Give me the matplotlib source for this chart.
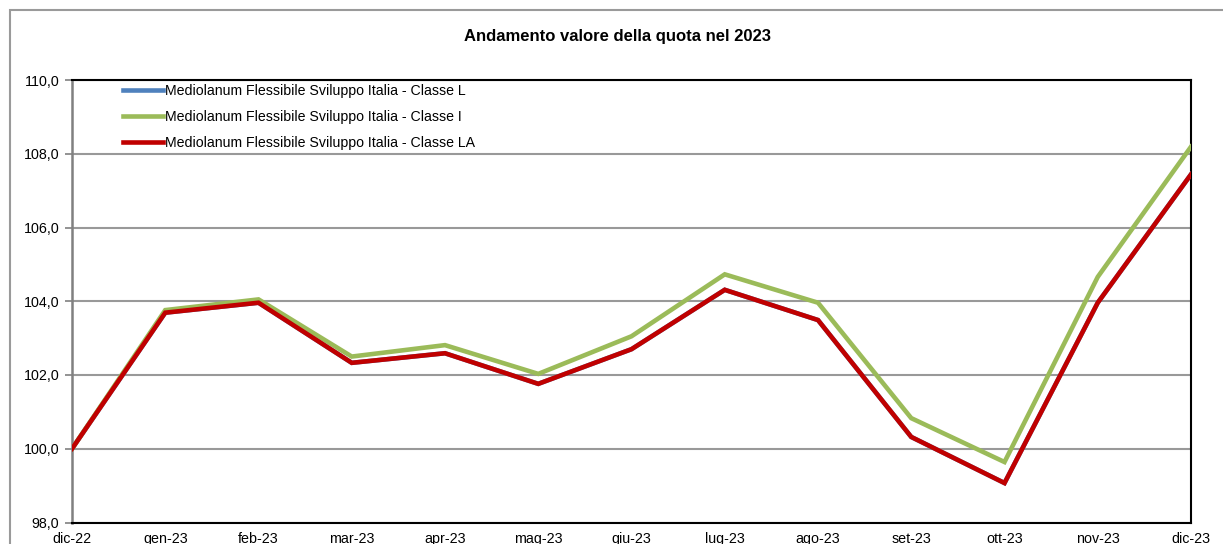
import matplotlib
matplotlib.use("Agg")
import matplotlib.pyplot as plt
from matplotlib.patches import Rectangle

plt.rcParams['font.family'] = ['Liberation Sans', 'DejaVu Sans']

months = ["dic-22", "gen-23", "feb-23", "mar-23", "apr-23", "mag-23", "giu-23",
          "lug-23", "ago-23", "set-23", "ott-23", "nov-23", "dic-23"]

classe_l = [100.0, 103.69, 103.96, 102.33, 102.59, 101.76, 102.70,
            104.31, 103.49, 100.32, 99.07, 103.96, 107.44]
classe_i = [100.0, 103.76, 104.05, 102.50, 102.81, 102.03, 103.05,
            104.73, 103.96, 100.83, 99.64, 104.66, 108.19]
classe_la = [100.0, 103.69, 103.96, 102.33, 102.59, 101.76, 102.70,
             104.31, 103.49, 100.32, 99.07, 103.96, 107.44]

series_names = ["Mediolanum Flessibile Sviluppo Italia - Classe L",
                "Mediolanum Flessibile Sviluppo Italia - Classe I",
                "Mediolanum Flessibile Sviluppo Italia - Classe LA"]
series_colors = ["#4F81BD", "#9BBB59", "#C00000"]

y_ticks = [98.0, 100.0, 102.0, 104.0, 106.0, 108.0, 110.0]

W, H = 1223, 544
fig = plt.figure(figsize=(W / 100, H / 100), dpi=100)

# outer chart-area border
fig.patches.append(Rectangle((10 / W, -0.05), 1.2, 1 - 10 / H + 0.05,
                             transform=fig.transFigure, fill=False,
                             edgecolor="#9a9a9a", linewidth=1.5))

ax = fig.add_axes([72 / W, 1 - 522.5 / H, (1191 - 72) / W, (522.5 - 80) / H])

x = list(range(len(months)))
for vals, name, col, z in zip([classe_l, classe_i, classe_la], series_names,
                              series_colors, [3, 4, 5]):
    ax.plot(x, vals, color=col, linewidth=3.3, label=name, zorder=z,
            solid_joinstyle="miter")

ax.set_xlim(0, len(months) - 1)
ax.set_ylim(98, 110)
ax.set_yticks(y_ticks)
ax.set_yticklabels([f"{v:.1f}".replace(".", ",") for v in y_ticks], fontsize=10.3)
ax.set_xticks(x)
ax.set_xticklabels(months, fontsize=10.3)
ax.tick_params(axis="x", length=0, pad=7)
ax.tick_params(axis="y", length=5, width=1.2, color="#808080", pad=4, direction="out")

ax.yaxis.grid(True, color="#999999", linewidth=1.5)
ax.set_axisbelow(True)

for side in ["top", "right", "bottom"]:
    ax.spines[side].set_color("black")
    ax.spines[side].set_linewidth(1.5)
ax.spines["left"].set_color("#808080")
ax.spines["left"].set_linewidth(1.8)
ax.spines["bottom"].set_zorder(6)

fig.text(618 / W, 1 - 37 / H, "Andamento valore della quota nel 2023",
         ha="center", va="center", fontsize=12, fontweight="bold")

leg = ax.legend(loc="upper left", bbox_to_anchor=(118 / W, 1 - 79 / H),
                bbox_transform=fig.transFigure, frameon=False, fontsize=10.2,
                handlelength=2.8, handletextpad=0.2, labelspacing=0.85,
                borderaxespad=0, borderpad=0.35)

fig.savefig("out.png", dpi=100, facecolor="white")
